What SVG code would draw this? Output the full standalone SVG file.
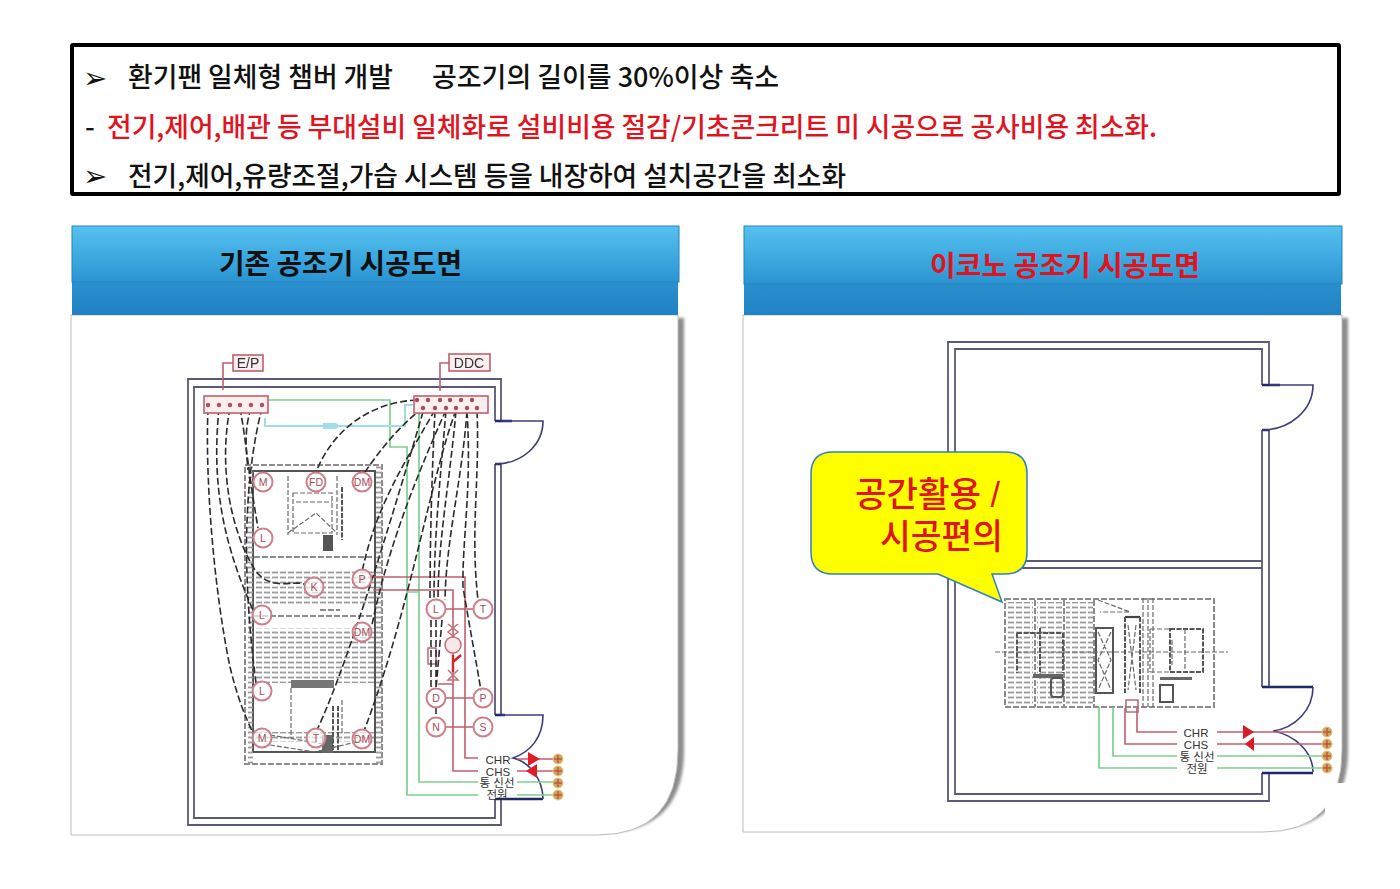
<svg xmlns="http://www.w3.org/2000/svg" width="1400" height="889" viewBox="0 0 1400 889">
<defs>
<style>
.t{font-family:"Noto Sans CJK KR","Noto Sans",sans-serif;font-size:27.5px;font-weight:500;fill:#111}
.r{fill:#e0141e}
.h{font-family:"Noto Sans CJK KR",sans-serif;font-size:28px;font-weight:700}
.c{font-family:"Liberation Sans","Noto Sans CJK KR",sans-serif;font-size:35px;font-weight:500;fill:#e0141e}
.lb{font-family:"Liberation Sans","Noto Sans CJK KR",sans-serif;font-size:11.5px;fill:#333;text-anchor:middle}
.ins{font-family:"Liberation Sans",sans-serif;font-size:10.5px;fill:#a84a58;text-anchor:middle}
.tag{font-family:"Liberation Sans",sans-serif;font-size:14px;fill:#333;text-anchor:middle}
.wall{fill:none;stroke:#5a5a78;stroke-width:1.8}
.door{fill:none;stroke:#3c3c7a;stroke-width:1.6}
.dk{fill:none;stroke:#1e2a66;stroke-width:2.6}
.red{fill:none;stroke:#c0606c;stroke-width:1.6}
.grn{fill:none;stroke:#7fce8e;stroke-width:1.7}
.cy{fill:none;stroke:#9fdde8;stroke-width:2}
.da{fill:none;stroke:#2c2c2c;stroke-width:1.6;stroke-dasharray:7 3}
.gd{fill:none;stroke:#8c8c8c;stroke-width:2;stroke-dasharray:6 2}
.gs{fill:none;stroke:#555;stroke-width:2}
.gl{fill:none;stroke:#6a6a6a;stroke-width:1.2;stroke-dasharray:5 2}
.gk{fill:none;stroke:#555;stroke-width:2;stroke-dasharray:5 1.5}
.i{fill:#fff;fill-opacity:.65;stroke:#cf7f88;stroke-width:2}
.tb{fill:#fbeeee;stroke:#c06070;stroke-width:1.6}
</style>
<linearGradient id="g1" x1="0" y1="0" x2="0" y2="1"><stop offset="0" stop-color="#55c2f0"/><stop offset="1" stop-color="#2a94d2"/></linearGradient>
<linearGradient id="g2" x1="0" y1="0" x2="0" y2="1"><stop offset="0" stop-color="#2a90d0"/><stop offset="1" stop-color="#2082c2"/></linearGradient>
<pattern id="hat" width="8" height="5" patternUnits="userSpaceOnUse"><path d="M0 2.5H6" stroke="#9a9a9a" stroke-width="1.8"/></pattern>
<filter id="sh" x="-5%" y="-5%" width="110%" height="110%"><feGaussianBlur stdDeviation="1.6"/></filter>
<filter id="soft" x="-2%" y="-2%" width="104%" height="104%"><feGaussianBlur stdDeviation="0.5"/></filter>
<g id="tm"><circle r="5" fill="#c4ac5c" stroke="#e8c080" stroke-width="1"/><path d="M-4 0H4M0 -4V4" stroke="#c85040" stroke-width="1.4"/></g>
</defs>
<rect width="1400" height="889" fill="#fff"/>

<g id="summary-box">
<rect x="72" y="45" width="1267" height="149" fill="#fff" stroke="#000" stroke-width="4" rx="1"/>
<text x="83" y="88" font-family="DejaVu Sans" font-size="29" fill="#111">➢</text>
<text class="t" x="128" y="87" textLength="265" lengthAdjust="spacingAndGlyphs">환기팬 일체형 챔버 개발</text>
<text class="t" x="432" y="87" textLength="347" lengthAdjust="spacingAndGlyphs">공조기의 길이를 30%이상 축소</text>
<text class="t" x="85" y="137">-</text>
<text class="t r" x="107" y="137" textLength="1050" lengthAdjust="spacingAndGlyphs">전기,제어,배관 등 부대설비 일체화로 설비비용 절감/기초콘크리트 미 시공으로 공사비용 최소화.</text>
<text x="83" y="186" font-family="DejaVu Sans" font-size="29" fill="#111">➢</text>
<text class="t" x="128" y="186" textLength="718" lengthAdjust="spacingAndGlyphs">전기,제어,유량조절,가습 시스템 등을 내장하여 설치공간을 최소화</text>
</g>

<g id="panel-left">
<path d="M76 318H684V750Q684 833 600 833H76Z" fill="#8c8c8c" filter="url(#sh)"/>
<path d="M71 315H678V750Q678 835 597 835H71Z" fill="#fff" stroke="#bdbdbd" stroke-width="1"/>
<rect x="72" y="282" width="606" height="33" fill="url(#g2)"/>
<rect x="72" y="226" width="607" height="56" fill="url(#g1)" stroke="#2a80b8" stroke-width="1"/>
<text class="h" x="219" y="274" fill="#111" textLength="243" lengthAdjust="spacingAndGlyphs">기존 공조기 시공도면</text>
</g>
<g id="panel-right">
<path d="M748 318H1348V750Q1348 830 1266 830H748Z" fill="#8c8c8c" filter="url(#sh)"/>
<path d="M743 315H1342V750Q1342 832 1263 832H743Z" fill="#fff" stroke="#bdbdbd" stroke-width="1"/>
<rect x="1325" y="783" width="32" height="42" fill="#fff"/>
<rect x="744" y="284" width="597" height="31" fill="url(#g2)"/>
<rect x="744" y="226" width="598" height="58" fill="url(#g1)" stroke="#2a80b8" stroke-width="1"/>
<text class="h" x="930" y="276" fill="#e0141e" textLength="270" lengthAdjust="spacingAndGlyphs">이코노 공조기 시공도면</text>
</g>

<g id="plan-left" filter="url(#soft)">
<path class="wall" d="M501 421V379H188V825H501V799M495 421V387H194V818H495V799M501 464V715M495 464V715"/>
<path class="dk" d="M495 421H512M495 464H501M495 715H505M495 799H543"/>
<path class="door" d="M501 421H543C543 445 522 464 495 464M501 715H543C543 738 530 752 513 758C530 762 543 780 543 799"/>

<rect class="gd" x="245" y="465" width="137" height="299"/>
<rect class="gs" x="253" y="471" width="122" height="281"/>
<rect x="254" y="570" width="120" height="34" fill="url(#hat)"/>
<rect x="254" y="628" width="120" height="55" fill="url(#hat)"/>
<rect x="246" y="466" width="7" height="298" fill="url(#hat)"/>
<rect x="375" y="466" width="7" height="298" fill="url(#hat)"/>
<rect x="254" y="732" width="120" height="10" fill="url(#hat)"/>
<path class="gd" d="M254 557H372M254 616H372M320 610H340"/>
<path class="gl" d="M288 476V535M337 476V535M293 493H332V533H293ZM288 533L316 513L337 533M296 502H332"/>
<path class="gk" d="M342 487V540"/>
<rect x="323" y="535" width="10" height="16" fill="#555"/>
<path d="M291 680H334V688H291Z" fill="#777"/>
<path class="gl" d="M291 688V738M342 700V735"/>
<rect x="322" y="735" width="11" height="18" fill="#666"/>
<path class="gk" d="M333 706V750M338 706V750"/>
<path class="gl" d="M270 745L315 752L372 738M270 735L330 745"/>

<path class="grn" d="M268 400H390V447H407V795H478M419 412V782H478M407 592H419"/>
<path class="cy" d="M265 418V426H405V405H413"/>
<path d="M323 423H336L340 426L336 429H323Z" fill="#9fdde8"/>

<path class="red" d="M373 577H465V758H478M373 590H453V771H478M517 759H558M517 771H558M445 609H474M445 698H474M445 727H474M438 684H453"/>
<path class="grn" d="M517 782H558M517 795H558"/>
<path d="M528 752L540 759L528 766Z" fill="#e01a28"/>
<path d="M537 764L526 771L537 778Z" fill="#e01a28"/>
<path d="M448 624L458 632L448 640M458 624L448 632L458 640M448 670L458 680L448 680L458 670" fill="none" stroke="#c47078" stroke-width="1.5"/>
<circle cx="453" cy="645" r="8" fill="#fbe8e8" stroke="#c47078" stroke-width="1.5"/>
<path d="M453 655V672M453 662L461 655" fill="none" stroke="#d9202c" stroke-width="2.4"/>
<rect x="428" y="648" width="8" height="16" fill="none" stroke="#b06070" stroke-width="1.4"/>

<path class="da" d="M208 408C205 480 214 590 230 667C238 700 246 718 253 733"/>
<path class="da" d="M219 408C213 470 217 530 253 610"/>
<path class="da" d="M230 408C218 470 232 530 252 565C268 595 295 578 306 585"/>
<path class="da" d="M240 408C246 440 248 470 258 528"/>
<path class="da" d="M251 408C244 430 246 450 248 470"/>
<path class="da" d="M262 408C246 470 240 560 256 683"/>
<path class="da" d="M417 400C375 402 335 425 316 472"/>
<path class="da" d="M423 408C400 425 380 450 365 472"/>
<path class="da" d="M435 410C400 470 375 510 362 572"/>
<path class="da" d="M446 410C410 490 385 560 372 625"/>
<path class="da" d="M423 412C400 490 350 660 317 730"/>
<path class="da" d="M456 410C430 480 410 610 364 731"/>
<path class="da" d="M435 411C432 470 430 540 430 600M446 411C440 480 434 540 434 600M456 411C450 480 438 540 438 600M467 411C462 480 446 540 445 600"/>
<path class="da" d="M477 411C480 480 470 530 478 600M467 411C472 490 462 540 463 587C470 630 476 660 481 691"/>
<path class="da" d="M431 620V689M436 620V689M442 620L436 689M436 707V718"/>
</g>

<g id="ep-panel" filter="url(#soft)"><path class="red" d="M233 363H223V390"/>
<rect class="tb" x="233" y="355" width="30" height="16"/><text class="tag" x="248" y="368">E/P</text>
<rect class="tb" x="204" y="396" width="64" height="17"/>
<g fill="#b05060"><circle cx="208" cy="405" r="2.2"/><circle cx="219" cy="405" r="2.2"/><circle cx="230" cy="405" r="2.2"/><circle cx="240" cy="405" r="2.2"/><circle cx="251" cy="405" r="2.2"/><circle cx="262" cy="405" r="2.2"/></g></g>
<g id="ddc-panel" filter="url(#soft)"><path class="red" d="M449 363H440V391"/>
<rect class="tb" x="449" y="354" width="41" height="17"/><text class="tag" x="469" y="368">DDC</text>
<rect class="tb" x="414" y="396" width="74" height="17"/>
<g fill="#a05060"><circle cx="417" cy="400" r="2.2"/><circle cx="428" cy="400" r="2.2"/><circle cx="440" cy="400" r="2.2"/><circle cx="450" cy="400" r="2.2"/><circle cx="461" cy="400" r="2.2"/><circle cx="472" cy="400" r="2.2"/><circle cx="423" cy="408" r="2.2"/><circle cx="435" cy="408" r="2.2"/><circle cx="446" cy="408" r="2.2"/><circle cx="456" cy="408" r="2.2"/><circle cx="467" cy="408" r="2.2"/><circle cx="477" cy="408" r="2.2"/></g></g>

<g id="inst-m1"><circle class="i" cx="263" cy="482" r="9.5"/><text class="ins" x="263" y="486">M</text></g>
<g id="inst-fd"><circle class="i" cx="316" cy="482" r="9.5"/><text class="ins" x="316" y="486">FD</text></g>
<g id="inst-dm1"><circle class="i" cx="362" cy="482" r="9.5"/><text class="ins" x="362" y="486">DM</text></g>
<g id="inst-l1"><circle class="i" cx="263" cy="538" r="9.5"/><text class="ins" x="263" y="542">L</text></g>
<g id="inst-k"><circle class="i" cx="314" cy="587" r="9.5"/><text class="ins" x="314" y="591">K</text></g>
<g id="inst-p1"><circle class="i" cx="362" cy="579" r="9.5"/><text class="ins" x="362" y="583">P</text></g>
<g id="inst-l2"><circle class="i" cx="262" cy="615" r="9.5"/><text class="ins" x="262" y="619">L</text></g>
<g id="inst-dm2"><circle class="i" cx="362" cy="632" r="9.5"/><text class="ins" x="362" y="636">DM</text></g>
<g id="inst-l3"><circle class="i" cx="262" cy="691" r="9.5"/><text class="ins" x="262" y="695">L</text></g>
<g id="inst-m2"><circle class="i" cx="262" cy="738" r="9.5"/><text class="ins" x="262" y="742">M</text></g>
<g id="inst-t1"><circle class="i" cx="316" cy="738" r="9.5"/><text class="ins" x="316" y="742">T</text></g>
<g id="inst-dm3"><circle class="i" cx="362" cy="739" r="9.5"/><text class="ins" x="362" y="743">DM</text></g>
<g id="inst-l4"><circle class="i" cx="436" cy="609" r="9.5"/><text class="ins" x="436" y="613">L</text></g>
<g id="inst-t2"><circle class="i" cx="483" cy="609" r="9.5"/><text class="ins" x="483" y="613">T</text></g>
<g id="inst-d"><circle class="i" cx="436" cy="698" r="9.5"/><text class="ins" x="436" y="702">D</text></g>
<g id="inst-p2"><circle class="i" cx="483" cy="698" r="9.5"/><text class="ins" x="483" y="702">P</text></g>
<g id="inst-n"><circle class="i" cx="436" cy="727" r="9.5"/><text class="ins" x="436" y="731">N</text></g>
<g id="inst-s"><circle class="i" cx="483" cy="727" r="9.5"/><text class="ins" x="483" y="731">S</text></g>

<g id="labels-left">
<text class="lb" x="498" y="764">CHR</text><text class="lb" x="498" y="776">CHS</text>
<text class="lb" x="497" y="787" font-size="10">통 신선</text><text class="lb" x="497" y="799" font-size="10">전원</text>
<use href="#tm" x="558" y="759"/><use href="#tm" x="558" y="771"/><use href="#tm" x="558" y="783"/><use href="#tm" x="558" y="795"/>
</g>

<g id="plan-right" filter="url(#soft)">
<path class="wall" d="M1269 385V342H948V801H1269V773M1262 385V349H955V794H1262V773M1269 430V687M1262 430V687M955 561H1262M955 568H1262"/>
<path class="dk" d="M1262 385H1280M1262 430H1269M1262 687H1313M1262 773H1313"/>
<path class="door" d="M1269 385H1313C1313 410 1290 430 1262 430M1313 687C1313 710 1295 728 1273 731C1295 735 1313 752 1313 772"/>

<rect class="gd" x="1005" y="599" width="209" height="108"/>
<rect x="1006" y="602" width="27" height="103" fill="url(#hat)"/>
<rect x="1037" y="602" width="25" height="103" fill="url(#hat)"/>
<rect x="1066" y="602" width="27" height="103" fill="url(#hat)"/>
<path class="gd" d="M1035 600V707M1064 600V707M1094 600V707"/>
<path class="gs" d="M1096 628H1113V693H1096Z"/>
<path class="gl" d="M1098 632L1111 660L1098 690M1111 632L1098 660L1111 690M1128 625L1136 690M1136 625L1128 690M1143 598V707M1148 598V707M1153 598V707M995 652H1228M1098 600L1130 612H1100"/>
<path d="M1125 617H1140" stroke="#444" stroke-width="2.2"/>
<path class="gk" d="M1125 617V693M1140 617V693M1017 633V673M1063 633V673M1017 633H1063M1040 628V680"/>
<path d="M1033 674H1063V678H1033Z" fill="#666"/>
<rect x="1051" y="678" width="12" height="19" rx="3" fill="none" stroke="#555" stroke-width="2"/>
<path class="gk" d="M1170 629H1203V672H1170Z"/>
<path class="gl" d="M1150 629H1170M1150 672H1170M1150 629V672M1185 629V672M1172 640V665"/>
<path d="M1160 677H1192V680H1160Z" fill="#666"/>
<rect x="1160" y="685" width="13" height="17" fill="none" stroke="#555" stroke-width="2"/>
<path d="M1126 700H1138V712H1126Z" fill="none" stroke="#b4707a" stroke-width="1.6"/>

<path class="red" d="M1137 708V732H1177M1125 708V744H1177M1217 732H1327M1217 744H1327"/>
<path class="grn" d="M1113 707V756H1177M1099 707V768H1177M1217 756H1327M1217 768H1327"/>
<path d="M1243 725L1254 732L1243 739Z" fill="#d81a28"/>
<path d="M1254 737L1245 744L1254 751Z" fill="#d81a28"/>
</g>

<g id="labels-right">
<text class="lb" x="1196" y="737">CHR</text><text class="lb" x="1196" y="749">CHS</text>
<text class="lb" x="1197" y="761" font-size="10">통 신선</text><text class="lb" x="1197" y="773" font-size="10">전원</text>
<use href="#tm" x="1327" y="732"/><use href="#tm" x="1327" y="744"/><use href="#tm" x="1327" y="756"/><use href="#tm" x="1327" y="768"/>
</g>

<g id="callout">
<path d="M833 452H1005Q1027 452 1027 474V552Q1027 574 1005 574H992L1002 602L938 574H833Q811 574 811 552V474Q811 452 833 452Z" fill="#ffff00" stroke="#2f7fc8" stroke-width="1.5"/>
<text class="c" x="855" y="507" textLength="145" lengthAdjust="spacingAndGlyphs">공간활용 /</text>
<text class="c" x="880" y="549" textLength="123" lengthAdjust="spacingAndGlyphs">시공편의</text>
</g>
</svg>
